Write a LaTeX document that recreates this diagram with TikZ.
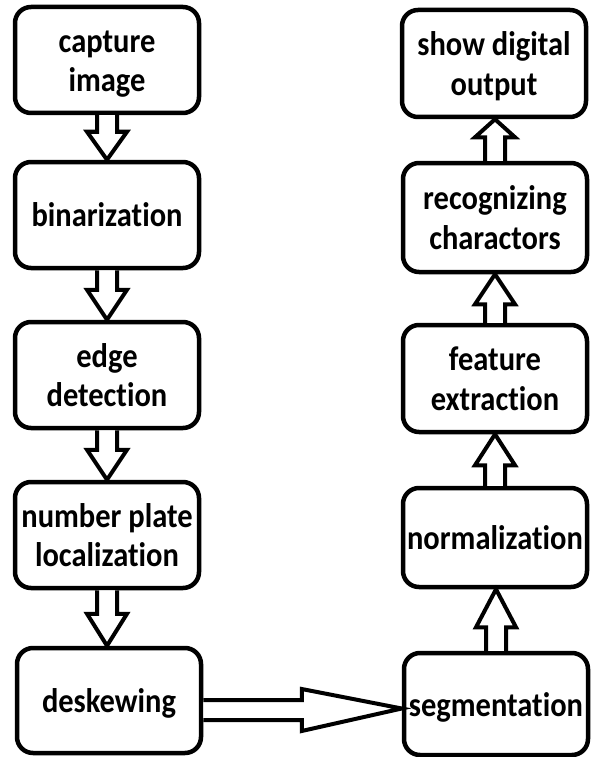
\documentclass[tikz,border=0pt]{standalone}
\usepackage{fontspec}
\usepackage{graphicx}
\setmainfont{Carlito}[Ligatures={NoCommon}]
\usetikzlibrary{calc}
\newcommand\vt[1]{\raisebox{-4pt}[\height][\depth]{\scalebox{1}[1.12]{\begin{tabular}{@{}c@{}}#1\end{tabular}}}}
\newcommand\blkdown[3]{%
  \draw[blk] let \p1=(#1.south), \p2=(#2.north) in
    (\x1-10pt,\y1) -- (\x1-10pt,\y2+#3) -- (\x1-20pt,\y2+#3) -- (\x1,\y2)
    -- (\x1+20pt,\y2+#3) -- (\x1+10pt,\y2+#3) -- (\x1+10pt,\y1);}
\newcommand\blkup[3]{%
  \draw[blk] let \p1=(#1.north), \p2=(#2.south) in
    (\x1-10pt,\y1) -- (\x1-10pt,\y2-#3) -- (\x1-20pt,\y2-#3) -- (\x1,\y2)
    -- (\x1+20pt,\y2-#3) -- (\x1+10pt,\y2-#3) -- (\x1+10pt,\y1);}
\begin{document}
\begin{tikzpicture}[x=1pt,y=-1pt,
  box/.style={draw, line width=4.5pt, rounded corners=16pt, minimum width=184pt,
    align=center, inner sep=0pt, font=\bfseries\fontsize{30.5}{35.7}\selectfont},
  blk/.style={draw, line width=4pt, line join=miter, fill=white}]
\useasboundingbox (0,0) rectangle (590,757);
% left column
\node[box, minimum height=106pt] (cap)  at (107,60)    {\vt{capture\\image}};
\node[box, minimum height=106pt] (bin)  at (107,215)   {\vt{binarization}};
\node[box, minimum height=106pt] (edge) at (107,375)   {\vt{edge\\detection}};
\node[box, minimum height=106pt] (npl)  at (107,535)   {\vt{number plate\\localization}};
\node[box, minimum height=105pt] (desk) at (109,700.5) {\vt{deskewing}};
% right column
\node[box, minimum height=107pt] (show) at (494,63.5)  {\vt{show digital\\output}};
\node[box, minimum height=109pt] (rec)  at (495,217.5) {\vt{recognizing\\charactors}};
\node[box, minimum height=107pt] (feat) at (495,378.5) {\vt{feature\\extraction}};
\node[box, minimum height=99pt]  (norm) at (495,537.5) {\vt{normalization}};
\node[box, minimum height=102pt] (seg)  at (496,704)   {\vt{segmentation}};
% arrows
\blkdown{cap}{bin}{28pt}
\blkdown{bin}{edge}{30pt}
\blkdown{edge}{npl}{30pt}
\blkdown{npl}{desk}{32pt}
\blkup{seg}{norm}{38pt}
\blkup{norm}{feat}{31pt}
\blkup{feat}{rec}{30pt}
\blkup{rec}{show}{18pt}
\draw[blk] let \p1=(desk.east), \p2=(seg.west) in
  (\x1,\y1-9.5pt+10pt) -- (\x2-100pt,\y1-9.5pt+10pt) -- (\x2-100pt,\y1-9.5pt+21pt)
  -- (\x2,\y1-8pt) -- (\x2-100pt,\y1-9.5pt-21pt) -- (\x2-100pt,\y1-9.5pt-10pt) -- (\x1,\y1-9.5pt-10pt);
\end{tikzpicture}
\end{document}
